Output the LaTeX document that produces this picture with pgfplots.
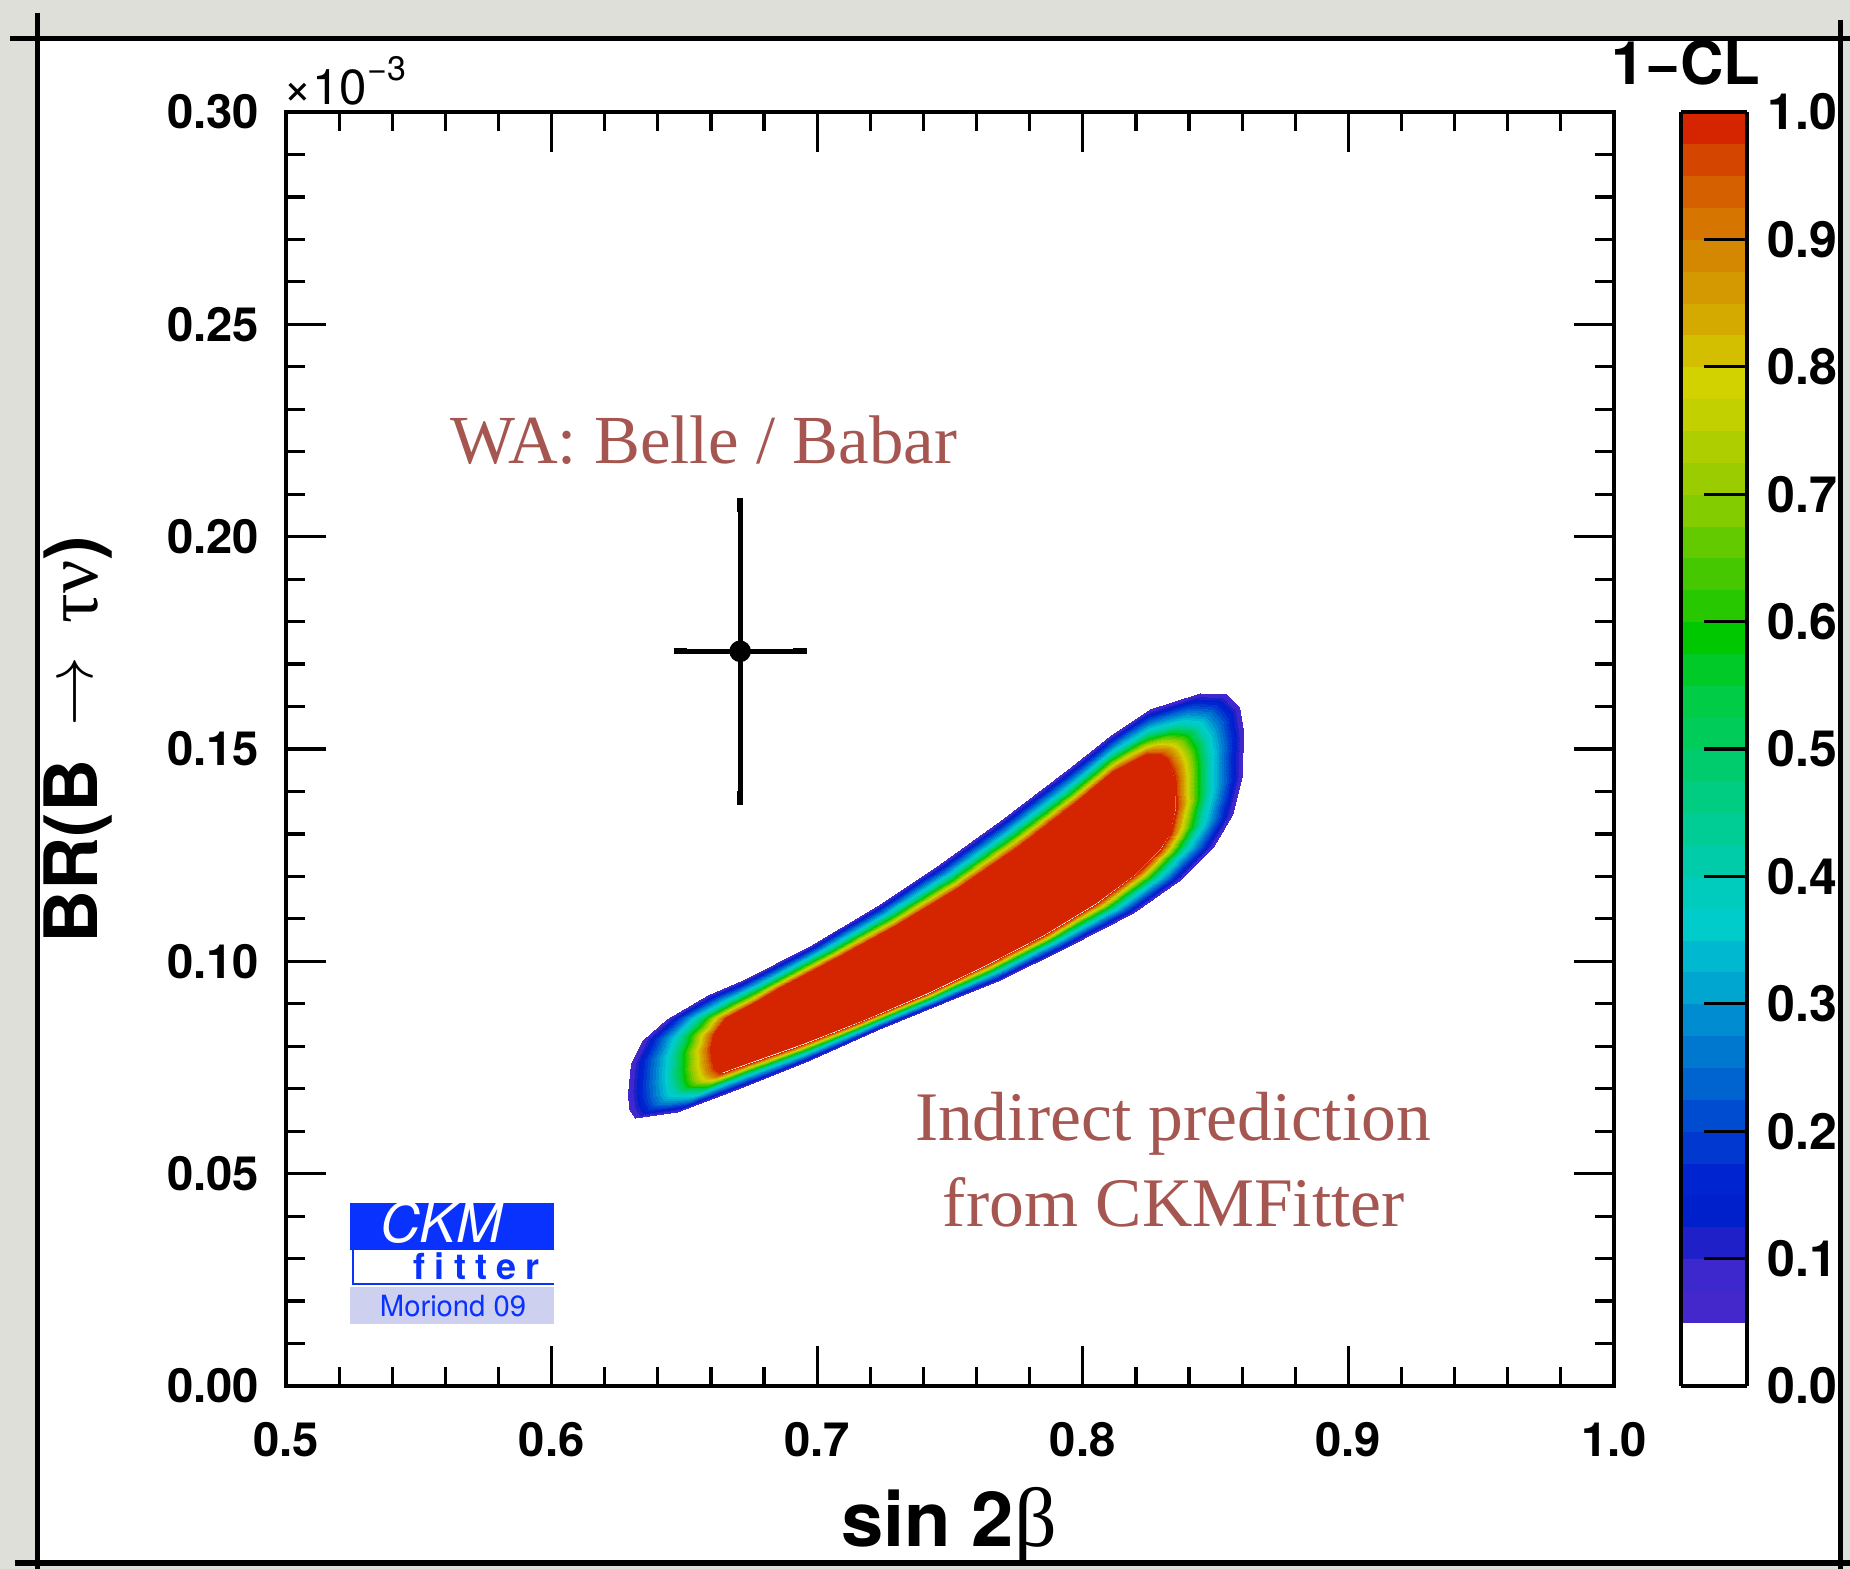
\documentclass[border=0pt]{standalone}
\usepackage{graphicx}
\usepackage{pgfplots}
\pgfplotsset{compat=1.18}
\usepackage{fontspec}
\newfontfamily\hel{TeX Gyre Heros}
\newfontfamily\lser{Liberation Serif}
\definecolor{bggray}{RGB}{223,223,217}
\definecolor{annot}{RGB}{166,86,80}
\definecolor{ckmblue}{RGB}{10,50,255}
\definecolor{ckmlav}{RGB}{206,208,240}
\definecolor{ckmred}{RGB}{212,36,0}
\pgfplotsset{colormap={ckm}{
rgb255(0cm)=(255,255,255)
rgb255(1cm)=(255,255,255)
rgb255(2cm)=(68,40,204)
rgb255(3cm)=(60,40,204)
rgb255(4cm)=(32,32,200)
rgb255(5cm)=(0,32,204)
rgb255(6cm)=(0,36,208)
rgb255(7cm)=(0,56,208)
rgb255(8cm)=(0,76,208)
rgb255(9cm)=(0,100,208)
rgb255(10cm)=(0,120,208)
rgb255(11cm)=(0,140,208)
rgb255(12cm)=(0,165,208)
rgb255(13cm)=(0,185,208)
rgb255(14cm)=(0,204,204)
rgb255(15cm)=(0,204,190)
rgb255(16cm)=(0,204,170)
rgb255(17cm)=(0,204,150)
rgb255(18cm)=(0,204,130)
rgb255(19cm)=(0,204,110)
rgb255(20cm)=(0,204,90)
rgb255(21cm)=(0,204,70)
rgb255(22cm)=(0,202,40)
rgb255(23cm)=(0,200,0)
rgb255(24cm)=(40,200,0)
rgb255(25cm)=(70,200,0)
rgb255(26cm)=(100,202,0)
rgb255(27cm)=(130,204,0)
rgb255(28cm)=(155,204,0)
rgb255(29cm)=(175,206,0)
rgb255(30cm)=(195,208,0)
rgb255(31cm)=(210,210,0)
rgb255(32cm)=(212,190,0)
rgb255(33cm)=(212,170,0)
rgb255(34cm)=(212,152,0)
rgb255(35cm)=(212,135,0)
rgb255(36cm)=(214,118,0)
rgb255(37cm)=(212,96,0)
rgb255(38cm)=(212,70,0)
rgb255(39cm)=(212,36,0)
rgb255(40cm)=(212,36,0)
}}
\newcommand{\tickfont}{\fontsize{11.8}{14}\selectfont\hel\bfseries}
\newcommand{\cbfont}{\fontsize{12.5}{15}\selectfont\hel\bfseries}
\begin{document}
\begin{tikzpicture}
\useasboundingbox (0,0) rectangle (462.5pt,392.25pt);
\fill[bggray] (0,0) rectangle (462.5pt,392.25pt);
\begin{scope}[x=0.25pt,y=-0.25pt,yshift=392.25pt]
\fill[white] (37,39) rectangle (1840,1563);
\end{scope}
\begin{axis}[
  at={(71.5pt,45.75pt)}, anchor=south west,
  scale only axis, width=332pt, height=318.5pt,
  xmin=0.5, xmax=1.0, ymin=0, ymax=0.30,
  xtick={0.5,0.6,0.7,0.8,0.9,1.0},
  ytick={0,0.05,0.10,0.15,0.20,0.25,0.30},
  minor x tick num=4, minor y tick num=4,
  tick align=inside,
  major tick length=10pt, minor tick length=4.75pt,
  axis line style={line width=1pt},
  every tick/.style={black, line width=0.8pt},
  scaled ticks=false,
  x tick label style={font=\tickfont, anchor=north, inner sep=0pt, yshift=-9pt,
     /pgf/number format/.cd, fixed, fixed zerofill, precision=1, assume math mode=true},
  y tick label style={font=\tickfont, anchor=east, inner sep=0pt, xshift=-6.5pt,
     /pgf/number format/.cd, fixed, fixed zerofill, precision=2, assume math mode=true},
  colormap name=ckm,
  colormap access=piecewise constant,
  point meta min=0, point meta max=1,
  colorbar,
  colorbar style={
    at={(parent axis.north east)}, anchor=north west, xshift=8.25pt,
    scale only axis, width=16.5pt, height=318.5pt,
    ytick={0,0.1,0.2,0.3,0.4,0.5,0.6,0.7,0.8,0.9,1},
    minor y tick num=0,
    ytick pos=right, yticklabel pos=right,
    tick align=inside, major tick length=10.75pt,
    axis line style={line width=1pt},
    every tick/.style={black, line width=0.8pt},
    axis on top,
    y tick label style={font=\cbfont, anchor=west, inner sep=0pt, xshift=5pt,
      /pgf/number format/.cd, fixed, fixed zerofill, precision=1, assume math mode=true},
  },
]
% 1-CL region: outer contour (~0.05), middle contour (~0.4), inner contour (~1)
\addplot[surf, shader=interp, mesh/rows=3, point meta=\thisrow{c}] table {
x y c
0.6288 0.0690 0.06
0.6299 0.0760 0.06
0.6344 0.0815 0.06
0.6434 0.0865 0.06
0.6589 0.0920 0.06
0.6721 0.0956 0.06
0.6973 0.1037 0.06
0.7225 0.1130 0.06
0.7462 0.1229 0.06
0.7688 0.1331 0.06
0.7941 0.1450 0.06
0.8102 0.1530 0.06
0.8253 0.1594 0.06
0.8441 0.1632 0.06
0.8540 0.1630 0.06
0.8590 0.1600 0.06
0.8605 0.1545 0.06
0.8599 0.1439 0.06
0.8562 0.1345 0.06
0.8490 0.1269 0.06
0.8366 0.1192 0.06
0.8189 0.1114 0.06
0.7941 0.1034 0.06
0.7688 0.0956 0.06
0.7474 0.0902 0.06
0.7225 0.0838 0.06
0.6973 0.0768 0.06
0.6721 0.0704 0.06
0.6472 0.0645 0.06
0.6314 0.0631 0.06
0.6293 0.0652 0.06
0.6288 0.0690 0.06
0.6447 0.0729 0.40
0.6451 0.0778 0.40
0.6478 0.0823 0.40
0.6547 0.0867 0.40
0.6672 0.0910 0.40
0.6786 0.0945 0.40
0.7027 0.1024 0.40
0.7263 0.1108 0.40
0.7496 0.1201 0.40
0.7719 0.1299 0.40
0.7961 0.1414 0.40
0.8106 0.1488 0.40
0.8244 0.1540 0.40
0.8366 0.1559 0.40
0.8429 0.1553 0.40
0.8465 0.1523 0.40
0.8477 0.1483 0.40
0.8475 0.1400 0.40
0.8446 0.1323 0.40
0.8390 0.1266 0.40
0.8283 0.1199 0.40
0.8120 0.1125 0.40
0.7896 0.1047 0.40
0.7659 0.0973 0.40
0.7447 0.0914 0.40
0.7203 0.0850 0.40
0.6962 0.0787 0.40
0.6741 0.0734 0.40
0.6556 0.0691 0.40
0.6465 0.0690 0.40
0.6452 0.0705 0.40
0.6447 0.0729 0.40
0.6605 0.0768 0.999
0.6602 0.0795 0.999
0.6612 0.0830 0.999
0.6660 0.0868 0.999
0.6755 0.0900 0.999
0.6850 0.0934 0.999
0.7080 0.1010 0.999
0.7300 0.1086 0.999
0.7530 0.1173 0.999
0.7750 0.1266 0.999
0.7980 0.1378 0.999
0.8110 0.1446 0.999
0.8234 0.1486 0.999
0.8290 0.1485 0.999
0.8318 0.1475 0.999
0.8340 0.1445 0.999
0.8348 0.1420 0.999
0.8350 0.1360 0.999
0.8330 0.1300 0.999
0.8290 0.1262 0.999
0.8200 0.1205 0.999
0.8050 0.1136 0.999
0.7850 0.1060 0.999
0.7630 0.0989 0.999
0.7420 0.0926 0.999
0.7180 0.0862 0.999
0.6950 0.0806 0.999
0.6760 0.0764 0.999
0.6640 0.0737 0.999
0.6615 0.0748 0.999
0.6610 0.0757 0.999
0.6605 0.0768 0.999
};
\addplot[draw=none, fill=ckmred] table {
x y
0.6605 0.0768
0.6602 0.0795
0.6612 0.0830
0.6660 0.0868
0.6755 0.0900
0.6850 0.0934
0.7080 0.1010
0.7300 0.1086
0.7530 0.1173
0.7750 0.1266
0.7980 0.1378
0.8110 0.1446
0.8234 0.1486
0.8290 0.1485
0.8318 0.1475
0.8340 0.1445
0.8348 0.1420
0.8350 0.1360
0.8330 0.1300
0.8290 0.1262
0.8200 0.1205
0.8050 0.1136
0.7850 0.1060
0.7630 0.0989
0.7420 0.0926
0.7180 0.0862
0.6950 0.0806
0.6760 0.0764
0.6640 0.0737
0.6615 0.0748
0.6610 0.0757
};
% World average measurement
\addplot[only marks, mark=*, mark size=2.5pt, black,
  error bars/.cd, x dir=both, x explicit, y dir=both, y explicit,
  error bar style={line width=1.3pt, black},
  error mark options={line width=1.5pt, mark size=1.7pt, black}]
  coordinates {(0.671,0.173) +- (0.0225,0.0345)};
\end{axis}
\begin{scope}[x=0.25pt,y=-0.25pt,yshift=392.25pt]
\node[anchor=base west, inner sep=0pt] at (283,105) {\hel\fontsize{12.3}{14}\selectfont ×10\raisebox{0.5em}{\fontsize{8.5}{10}\selectfont −3}};
\node[anchor=base, inner sep=0pt] at (1686,85) {\hel\bfseries\fontsize{15}{17}\selectfont 1−CL};
\node[anchor=base, inner sep=0pt] at (949,1547) {\hel\bfseries\fontsize{19}{22}\selectfont sin 2{\lser\mdseries\fontsize{21}{22}\selectfont β}};
\node[rotate=90, anchor=base, inner sep=0pt] at (97,740) {\hel\bfseries\fontsize{18.4}{20}\selectfont BR(B\hspace{0.45em}\raisebox{1.1pt}{\resizebox{17.5pt}{!}{$\rightarrow$}}\hspace{0.45em}{\lser\mdseries τν})};
\node[anchor=base, inner sep=0pt, text=annot] at (704,464) {\lser\fontsize{17.2}{20}\selectfont WA: Belle / Babar};
\node[anchor=base, inner sep=0pt, text=annot] at (1173,1141) {\lser\fontsize{17.4}{20}\selectfont Indirect prediction};
\node[anchor=base, inner sep=0pt, text=annot] at (1174,1227) {\lser\fontsize{17.4}{20}\selectfont from CKMFitter};
% CKMfitter logo
\fill[ckmblue] (350,1203) rectangle (554,1250);
\draw[ckmblue, line width=0.6pt] (353,1250) -- (353,1284) -- (554,1284);
\fill[ckmlav] (350,1287) rectangle (554,1324);
\node[anchor=base west, inner sep=0pt, text=white] at (380,1243) {\hel\itshape\fontsize{13.8}{15}\selectfont CKM};
\node[anchor=base west, inner sep=0pt, text=ckmblue] at (413,1280) {\hel\bfseries\fontsize{9}{10}\selectfont f\hspace{2.3pt}i\hspace{2.3pt}t\hspace{2.3pt}t\hspace{2.3pt}e\hspace{2.3pt}r};
\node[anchor=base, inner sep=0pt, text=ckmblue] at (453,1317) {\hel\fontsize{7.3}{8}\selectfont Moriond 09};
% slide frame
\fill[bggray] (1842.5,0) rectangle (1850,1569);
\fill[bggray] (0,1566) rectangle (1850,1569);
\draw[line width=1.25pt] (10,39) -- (1850,39);
\draw[line width=1.25pt] (37,13) -- (37,1569);
\draw[line width=1.25pt] (1840,20) -- (1840,1569);
\draw[line width=1.5pt] (15,1563) -- (1850,1563);
\end{scope}
\end{tikzpicture}
\end{document}
